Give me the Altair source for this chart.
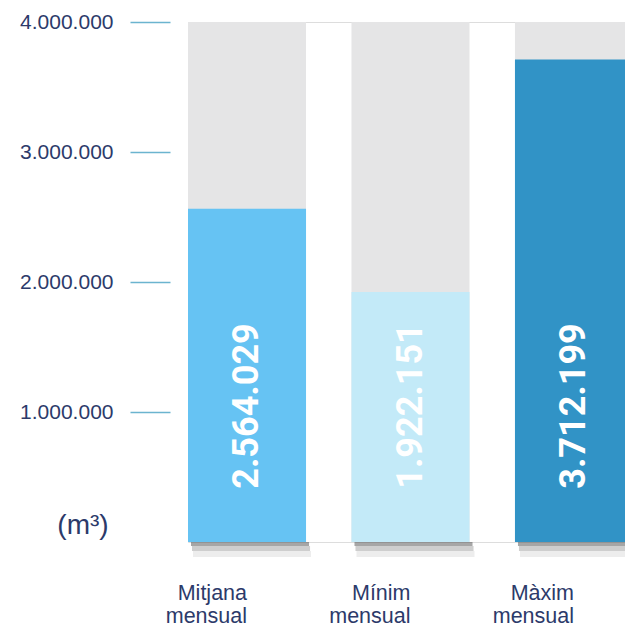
import altair as alt
import pandas as pd

categories = ["Mitjana mensual", "Mínim mensual", "Màxim mensual"]
values = [2564029, 1922151, 3712199]
capacity = [4000000, 4000000, 4000000]
colors = ["#66c3f3", "#c3eaf8", "#3193c6"]
y_ticks = [1000000, 2000000, 3000000, 4000000]
unit_label = ["(m³)"]

df = pd.DataFrame({"cat": categories, "valor": values, "escala": capacity})
unit_df = pd.DataFrame({"t": unit_label})

navy = "#2c3a6a"

x_enc = alt.X(
    "cat:N",
    sort=None,
    scale=alt.Scale(paddingInner=0.278, paddingOuter=0, range=[0, 445]),
    axis=alt.Axis(
        title=None, domain=False, ticks=False, labelAngle=0,
        labelExpr="split(datum.label, ' ')",
        labelFontSize=21.5, labelColor=navy, labelFont="Liberation Sans",
        labelBaseline="alphabetic", labelPadding=57, labelLineHeight=23,
    ),
)

y_scale = alt.Scale(domain=[0, 4000000], nice=False)

base = alt.Chart(df)

bg = base.mark_bar(color="#e5e5e6").encode(
    x=x_enc,
    y=alt.Y(
        "escala:Q", scale=y_scale,
        axis=alt.Axis(
            title=None, values=y_ticks, format=",d", domain=False, grid=False,
            offset=18, tickSize=40, tickWidth=1.6, tickColor="#6bb4cf",
            labelPadding=17, labelFontSize=21, labelColor=navy,
            labelFont="Liberation Sans",
        ),
    ),
)

shadow1 = base.mark_rect(color="#3a3a3a", opacity=0.45, xOffset=3).encode(
    x=alt.X("cat:N", sort=None), y=alt.value(520), y2=alt.value(524)
)
shadow2 = base.mark_rect(color="#3a3a3a", opacity=0.25, xOffset=4).encode(
    x=alt.X("cat:N", sort=None), y=alt.value(524), y2=alt.value(529)
)
shadow3 = base.mark_rect(color="#3a3a3a", opacity=0.09, xOffset=5).encode(
    x=alt.X("cat:N", sort=None), y=alt.value(529), y2=alt.value(535)
)

bars = base.mark_bar().encode(
    x=alt.X("cat:N", sort=None),
    y=alt.Y("valor:Q", scale=y_scale),
    color=alt.Color("cat:N", scale=alt.Scale(domain=categories, range=colors), legend=None),
)

labels = base.mark_text(
    angle=270, align="center", baseline="middle", color="white",
    font="Roboto", fontWeight="bold", fontSize=36,
).encode(
    x=alt.X("cat:N", sort=None, bandPosition=0.5),
    y=alt.value(384),
    text=alt.Text("valor:Q", format=",d"),
)

unit = alt.Chart(unit_df).mark_text(
    align="center", baseline="alphabetic", fontSize=28, color=navy, font="Liberation Sans"
).encode(x=alt.value(-105), y=alt.value(512), text="t:N")

chart = (
    alt.layer(shadow1, shadow2, shadow3, bg, bars, labels, unit)
    .properties(
        width=437, height=520,
        autosize=alt.AutoSizeParams(type="none"),
        padding={"left": 180, "top": 14, "right": 0, "bottom": 84},
    )
    .configure_view(stroke=None)
    .configure(locale={"number": {"decimal": ",", "thousands": ".", "grouping": [3], "currency": ["", " €"]}})
)

chart.save("out.html", embed_options={"renderer": "svg", "actions": False})
